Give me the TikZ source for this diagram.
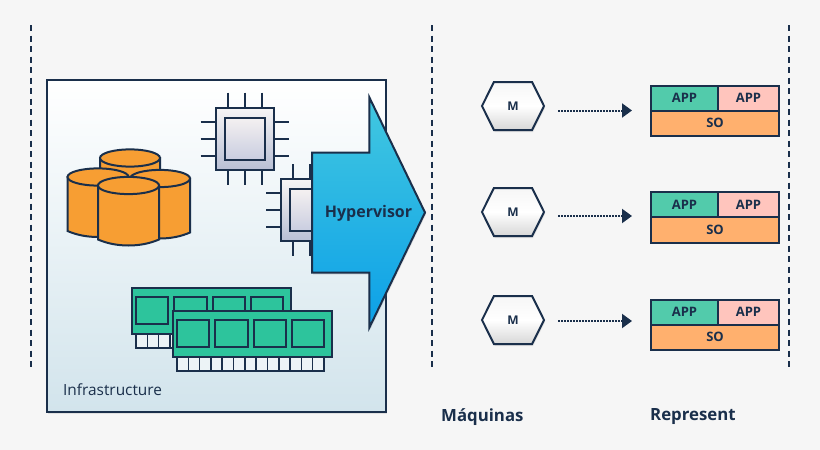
\documentclass[tikz,border=0pt]{standalone}
\usepackage{fontspec}
\setmainfont{Open Sans}
\usetikzlibrary{shapes.arrows,shapes.symbols,shadows,arrows.meta}

\definecolor{ink}{HTML}{1A2F4B}
\definecolor{paper}{HTML}{F6F6F6}
\definecolor{drum}{HTML}{F79E33}
\definecolor{board}{HTML}{2DC49C}

\tikzset{softshadow/.style = {drop shadow = {opacity = .18, shadow xshift = 1pt, shadow yshift = -2pt}},
         infra/.style = {draw = ink, line width = 2pt, top color = white, bottom color = {rgb,255:red,210;green,228;blue,236}, softshadow},
         hyper/.style = {single arrow, draw = ink, line width = 2pt, top color = {rgb,255:red,66;green,200;blue,224}, bottom color = {rgb,255:red,12;green,160;blue,232},
                         minimum height = 113pt, single arrow head extend = 55pt, single arrow head indent = 0pt, single arrow tip angle = 128.4,
                         text height = 64pt, text depth = 54pt,
                         inner sep = 0pt, outer sep = 0pt, text = ink, font = \bfseries\fontsize{16}{19}\selectfont},
         vm/.style = {signal, signal to = west and east, signal pointer angle = 127, draw = ink, line width = 2pt,
                      top color = {rgb,255:red,246;green,246;blue,246}, bottom color = {rgb,255:red,215;green,215;blue,215}, middle color = white, minimum width = 62pt, minimum height = 48pt,
                      inner sep = 0pt, outer sep = 0pt, text = ink, font = \bfseries\fontsize{12}{14}\selectfont, softshadow},
         slot/.style = {draw = ink, line width = 2pt, inner sep = 0pt, outer sep = 0pt, text = ink, font = \bfseries\fontsize{13}{15}\selectfont, anchor = north west},
         appa/.style = {slot, fill = {rgb,255:red,82;green,203;blue,171}, minimum width = 67pt, minimum height = 25pt},
         appb/.style = {slot, fill = {rgb,255:red,255;green,197;blue,189}, minimum width = 61pt, minimum height = 25pt},
         sobar/.style = {slot, fill = {rgb,255:red,255;green,176;blue,110}, minimum width = 128pt, minimum height = 25.5pt},
         rule/.style = {draw = ink, line width = 2pt, dash pattern = on 6pt off 4.5pt},
         flow/.style = {draw = ink, line width = 2pt, dash pattern = on 1.6pt off 1.4pt, -{Triangle[length = 10pt, width = 14pt]}, shorten <= 14pt},
         title/.style = {text = ink, font = \bfseries\fontsize{16.8}{20}\selectfont},
         line/.style = {draw = ink, line width = 2pt},
         chip/.pic = {
           \foreach \p in {-17,0,17} {
             \draw[line] (\p,-46) -- (\p,46);
             \draw[line] (-44,\p) -- (44,\p);
           }
           \draw[line, top color = {rgb,255:red,247;green,245;blue,245}, bottom color = {rgb,255:red,184;green,191;blue,212}] (-29,-31) rectangle (29,31);
           \draw[line, top color = {rgb,255:red,245;green,241;blue,241}, bottom color = {rgb,255:red,201;green,205;blue,224}] (-20,-21) rectangle (20,21);
         },
         ram/.pic = {
           \foreach \i in {0,...,12} {
             \draw[line, fill = {rgb,255:red,236;green,243;blue,246}, line width = 1.6pt] (4+11.3*\i,46) rectangle ++(11.3,14);
           }
           \draw[line, fill = board] (0,0) rectangle (159,46);
           \foreach \x/\w in {4/32,42/33,81/32,119/32} {
             \draw[line, fill = board] (\x,9) rectangle ++(\w,27);
           }
         },
}

% one drum of the storage pile
\newcommand{\drumat}[3]{
  \draw[line, fill = drum] (#1-#3,#2) -- (#1-#3,#2+54) .. controls (#1-#3+18,#2+62) and (#1+#3-18,#2+62) .. (#1+#3,#2+54) -- (#1+#3,#2) -- cycle;
  \draw[line, fill = drum] (#1,#2) ellipse ({#3} and 8.6);
}

\begin{document}
\begin{tikzpicture}[x = 1pt, y = -1pt]
  \useasboundingbox[fill = paper] (0,0) rectangle (820,450);

  % dashed separators
  \foreach \x/\name in {31/a,432/b,789/c} {
    \coordinate (rule\name top) at (\x,25);
    \coordinate (rule\name end) at (\x,368);
    \draw[rule] (rule\name top) -- (rule\name end);
  }

  % infrastructure
  \path[infra] (47,80) rectangle (386,412);
  \node[anchor = west, text = ink, font = \fontsize{15.4}{18}\selectfont, inner sep = 0pt] (infralabel) at (63,390) {Infrastructure};

  \drumat{130}{158}{30}
  \drumat{98}{177}{30.5}
  \drumat{160}{178.5}{30}
  \drumat{128.5}{185.5}{30.5}

  \pic at (244.5,138.5) {chip};
  \pic at (310,210) {chip};

  \pic at (132,288) {ram};
  \pic at (173,311) {ram};

  \node[hyper, softshadow] (hypervisor) at (354,212.5) {\makebox[0pt]{\hspace*{29pt}Hypervisor}};

  % machines
  \foreach \n/\y/\top/\ay in {1/106/85.5/110.5,2/212/192/216,3/320/299.5/321} {
    \node[vm] (m\n) at (513,\y) {M};
    \node[appa] (appa\n) at (651,\top) {APP};
    \node[appb] (appb\n) at (appa\n.north east) {APP};
    \node[sobar] (so\n) at (appa\n.south west) {SO};
    \coordinate (in\n) at (632,\ay);
    \draw[flow] (m\n.east |- in\n) -- (in\n);
  }

  \node[title, anchor = west, inner sep = 0pt] (machines) at (441,417) {Máquinas};
  \node[title, anchor = west, inner sep = 0pt] (represent) at (650,417) {Represent};
\end{tikzpicture}
\end{document}
